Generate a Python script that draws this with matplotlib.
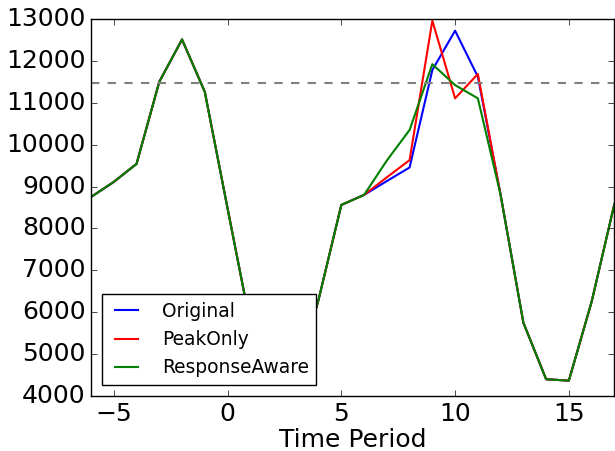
import numpy as np
import matplotlib
matplotlib.use('Agg')
import matplotlib.pyplot as plt

# Demand per time period for each scheduling strategy
periods = list(range(-6, 18))
original = [8750, 9110, 9540, 11500, 12510, 11260, 8480, 5720, 4400, 4370, 6300, 8560,
            8800, 9130, 9455, 11780, 12720, 11620, 8800, 5750, 4400, 4366, 6250, 8580]
peak_only = [8750, 9110, 9540, 11500, 12510, 11260, 8480, 5720, 4400, 4370, 6300, 8560,
             8800, 9220, 9630, 12960, 11105, 11685, 8800, 5750, 4400, 4366, 6250, 8580]
response_aware = [8750, 9110, 9540, 11500, 12510, 11260, 8480, 5720, 4400, 4370, 6300, 8560,
                  8800, 9620, 10350, 11920, 11420, 11105, 8800, 5750, 4400, 4366, 6250, 8580]
threshold = 11460

plt.style.use('classic')
fig = plt.figure(figsize=(6.15, 4.51), dpi=100, facecolor='white')
ax = fig.add_axes([0.148, 0.122, 0.851, 0.836])

ax.plot(periods, original, color='b', lw=1.5, label='Original')
ax.plot(periods, peak_only, color='r', lw=1.5, label='PeakOnly')
ax.plot(periods, response_aware, color='g', lw=1.5, label='ResponseAware')
ax.axhline(threshold, color='gray', ls='--', lw=1.5)

ax.set_xlim(-6, 17)
ax.set_ylim(4000, 13000)
ax.set_xticks([-5, 0, 5, 10, 15])
ax.set_yticks(np.arange(4000, 13001, 1000))
ax.tick_params(labelsize=18)
ax.set_xlabel('Time Period', fontsize=18, labelpad=2)

ax.legend(loc='lower left', fontsize=13.4, handlelength=1.8, handletextpad=1.0,
          labelspacing=0.5, borderpad=0.4, borderaxespad=0.6)

plt.savefig('out.png', dpi=100, facecolor='white')
